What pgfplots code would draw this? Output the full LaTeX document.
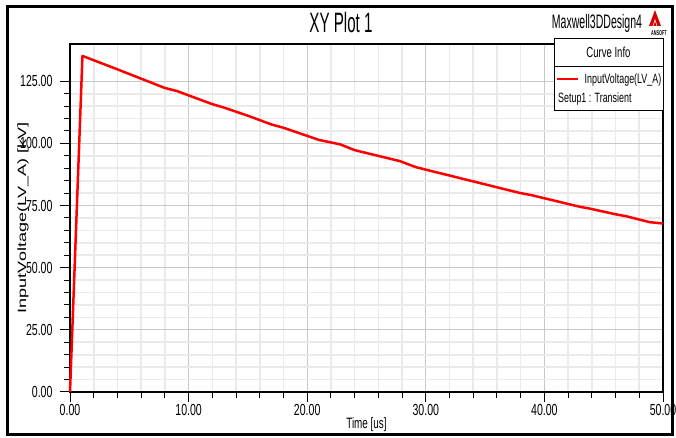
\documentclass[border=0pt]{standalone}
\usepackage{fontspec}
\setmainfont{Liberation Sans}
\newfontfamily\narrowA{Liberation Sans}[FakeStretch=0.54]
\newfontfamily\narrowB{Liberation Sans}[FakeStretch=0.66]
\newfontfamily\ylfont{Liberation Sans}[FakeStretch=1.5]
\usepackage{pgfplots}
\pgfplotsset{compat=1.18}
\definecolor{majgrid}{RGB}{200,200,200}
\definecolor{mingrid}{RGB}{234,234,234}
\begin{document}
\begin{tikzpicture}
\useasboundingbox (0pt,0pt) rectangle (676pt,438pt);
\fill[white] (0pt,0pt) rectangle (676pt,438pt);
\begin{axis}[
  at={(70pt,46pt)}, anchor=south west,
  scale only axis, width=593pt, height=348pt,
  xmin=0, xmax=50, ymin=0, ymax=140,
  xtick={0,10,...,50}, ytick={0,25,...,125},
  minor x tick num=4, minor y tick num=4,
  grid=both,
  major grid style={majgrid, line width=1.2pt},
  minor grid style={mingrid, line width=1.6pt},
  axis line style={black, line width=1.6pt},
  tick align=outside, xtick pos=bottom, ytick pos=left,
  major tick length=10pt, minor tick length=6pt,
  tick style={black, line width=1pt},
  /pgf/number format/.cd, fixed, fixed zerofill, precision=2, assume math mode=true,
  /pgfplots/.cd,
  tick label style={font=\narrowB\fontsize{16}{17}\selectfont},
  yticklabel style={xshift=-4pt},
  xticklabel style={yshift=1pt},
  xlabel={Time [us]},
  xlabel style={at={(axis description cs:0.5,-0.0948)}, anchor=center, font=\narrowB\fontsize{15}{16}\selectfont},
  ylabel={InputVoltage(LV\_A) [kV]},
  ylabel style={at={(axis description cs:-0.0793,0.501)}, anchor=center, rotate=0, font=\ylfont\fontsize{12}{13}\selectfont},
  clip=false,
  legend style={at={(axis description cs:0.8195,0.8994)}, anchor=west, draw=none, fill=none, inner sep=0pt,
    font=\narrowB\fontsize{13.5}{15}\selectfont, legend cell align=left},
  legend image code/.code={\draw[red, line width=2.5pt] (0pt,0pt) -- (21pt,0pt);},
]
\draw[fill=white, line width=1pt] (axis description cs:0.8162,1.0144) rectangle (axis description cs:1.0,0.8103);
\draw[line width=0.8pt] (axis description cs:0.8162,0.9368) -- (axis description cs:1.0,0.9368);
\node[font=\narrowB\fontsize{14.5}{15}\selectfont] at (axis description cs:0.908,0.9756) {Curve Info};
\node[font=\narrowB\fontsize{13.5}{15}\selectfont, anchor=west, inner sep=0pt] at (axis description cs:0.8229,0.842) {Setup1 : Transient};
\addplot[red, line width=2.5pt, line join=round] table {
x y
0 0
1.05 135.2
4.0 129.8
8.0 122.3
9.0 121.1
12.0 115.8
13.0 114.4
15.2 110.8
17.0 107.6
18.0 106.3
21.0 101.4
22.8 99.6
24.0 97.3
27.8 92.9
29.2 90.4
33.0 85.9
37.9 80.1
38.9 79.2
43.0 74.5
43.8 73.8
46.1 71.4
46.9 70.7
48.9 68.3
50.0 67.8
};
\addlegendentry{\hspace*{3pt}InputVoltage(LV\_A)}
\end{axis}
\draw[line width=3pt] (7pt,3pt) rectangle (672pt,431pt);
\node[font=\narrowA\fontsize{28}{30}\selectfont] at (341pt,415pt) {XY Plot 1};
\node[font=\narrowA\fontsize{19.5}{21}\selectfont] at (597pt,415pt) {Maxwell3DDesign4};
\fill[red!85!black] (649pt,412pt) -- (661pt,412pt) -- (655pt,428pt) -- cycle;
\draw[white, line width=0.6pt] (653pt,412pt) -- (655pt,418pt) -- (657pt,412pt);
\node[font=\narrowA\bfseries\fontsize{7}{8}\selectfont] at (659pt,405pt) {ANSOFT};
\end{tikzpicture}
\end{document}
